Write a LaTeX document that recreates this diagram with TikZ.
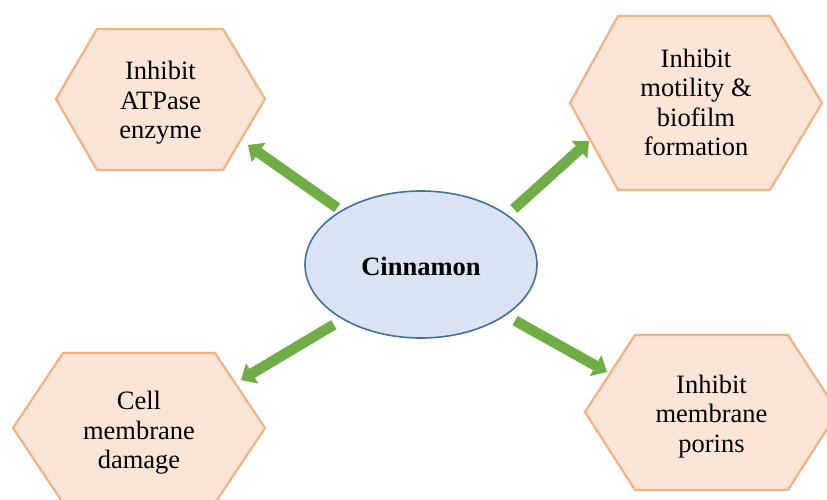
\documentclass[tikz,border=0pt]{standalone}
\usepackage{fontspec}
\setmainfont{Liberation Serif}
\usetikzlibrary{arrows.meta,shapes.geometric}

\definecolor{hexfill}{HTML}{FBE5D6}
\definecolor{hexline}{HTML}{F4B183}
\definecolor{cinfill}{HTML}{DAE3F3}
\definecolor{cinline}{HTML}{41719C}
\definecolor{leafgreen}{HTML}{70AD47}

\begin{document}
\begin{tikzpicture}[
  x=1pt, y=-1pt,
  hexbox/.style={draw=hexline,fill=hexfill,line width=2.2pt},
  hextext/.style={align=center,yshift=-3pt,font=\fontsize{26.5}{29.5}\selectfont},
  core/.style={ellipse,draw=cinline,fill=cinfill,line width=1.6pt,minimum width=232pt,minimum height=147pt,
    text height=22.5pt,text depth=0pt,font=\bfseries\fontsize{26.5}{29.5}\selectfont},
  fat/.style={draw=leafgreen,line width=10.5pt,-{Triangle[length=13pt,width=23pt]}}
]
\useasboundingbox (0,0) rectangle (827,500);

% centre
\node[core] (cin) at (421,264.5) {Cinnamon};

% the four effects
\draw[hexbox] (56,99) -- (97,29) -- (223,29) -- (265,99) -- (223,170) -- (97,170) -- cycle;
\node[hextext] (atp) at (160.5,100) {Inhibit\\ATPase\\enzyme};

\draw[hexbox] (570,103) -- (618,16) -- (770,16) -- (822,103) -- (770,190) -- (618,190) -- cycle;
\node[hextext] (biofilm) at (696,99.5) {Inhibit\\motility \&\\biofilm\\formation};

\draw[hexbox] (13,428) -- (63,353) -- (215,353) -- (265,428) -- (215,503) -- (63,503) -- cycle;
\node[hextext] (damage) at (139,430) {Cell\\membrane\\damage};

\draw[hexbox] (585,412) -- (635,335) -- (788,335) -- (838,412) -- (788,490) -- (635,490) -- cycle;
\node[hextext] (porins) at (711.5,413.5) {Inhibit\\membrane\\porins};

% arrow ends
\coordinate (atpTip) at (248,145);
\coordinate (biofilmTip) at (589,141);
\coordinate (damageTip) at (241,380);
\coordinate (porinsTip) at (607,372);

\draw[fat,shorten <=4.5pt] (cin.146) -- (atpTip);
\draw[fat,shorten <=8.5pt] (cin.30.6) -- (biofilmTip);
\draw[fat,shorten <=10pt] (cin.215) -- (damageTip);
\draw[fat,shorten <=10.5pt] (cin.329.4) -- (porinsTip);
\end{tikzpicture}
\end{document}
